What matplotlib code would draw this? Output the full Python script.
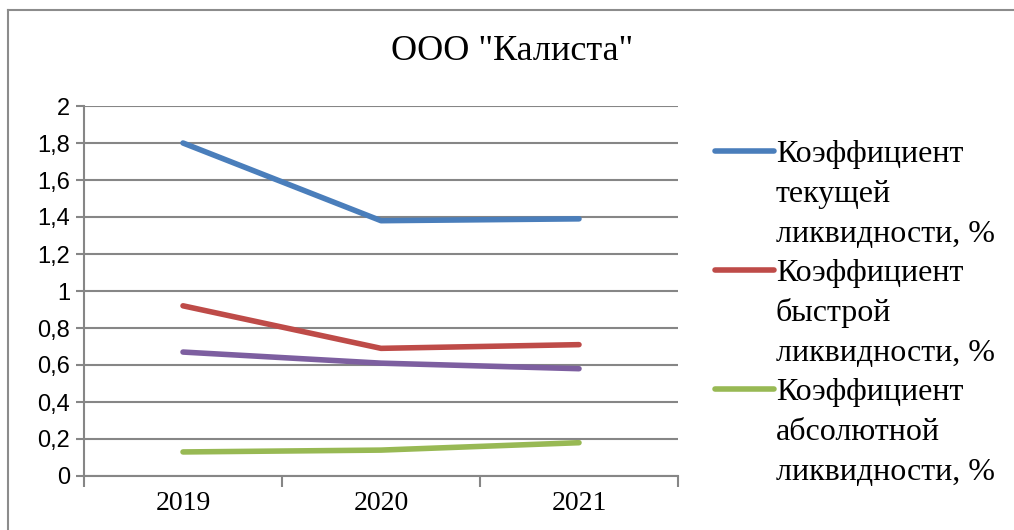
import matplotlib.pyplot as plt
from matplotlib.lines import Line2D
from matplotlib.ticker import FuncFormatter

# data
years = ['2019', '2020', '2021']
current_ratio = [1.80, 1.38, 1.39]
quick_ratio = [0.92, 0.69, 0.71]
other_ratio = [0.67, 0.61, 0.58]
absolute_ratio = [0.13, 0.14, 0.18]

legend_labels = [
    ['Коэффициент', 'текущей', 'ликвидности, %'],
    ['Коэффициент', 'быстрой', 'ликвидности, %'],
    ['Коэффициент', 'абсолютной', 'ликвидности, %'],
]

serif = ['Liberation Serif', 'DejaVu Serif']
narrow = ['Liberation Sans Narrow', 'Liberation Sans', 'DejaVu Sans']
grid_col = '#868686'

fig = plt.figure(figsize=(10.14, 5.30), dpi=100)
ax = fig.add_axes([84 / 1014, 54 / 530, 594 / 1014, 370 / 530])

x = range(len(years))
lw = 4.0
l1, = ax.plot(x, current_ratio, color='#4A7EBB', lw=lw, solid_capstyle='round')
l2, = ax.plot(x, quick_ratio, color='#BE4B48', lw=lw, solid_capstyle='round')
ax.plot(x, other_ratio, color='#7D5FA0', lw=lw, solid_capstyle='round')
l3, = ax.plot(x, absolute_ratio, color='#98B954', lw=lw, solid_capstyle='round')

ax.set_xlim(-0.5, 2.5)
ax.set_ylim(0, 2)
ax.set_yticks([i * 0.2 for i in range(11)])
ax.yaxis.set_major_formatter(FuncFormatter(lambda v, p: ('%g' % round(v, 1)).replace('.', ',')))
ax.grid(axis='y', color=grid_col, lw=1.5)
ax.set_axisbelow(True)

# categories in the middle, tick marks between them
ax.set_xticks([-0.5, 0.5, 1.5, 2.5])
ax.set_xticklabels([])
ax.set_xticks(list(x), minor=True)
ax.set_xticklabels(years, minor=True, fontfamily=serif, fontsize=20)
ax.tick_params(axis='x', which='major', length=8, width=1.5, color=grid_col, direction='out')
ax.tick_params(axis='x', which='minor', length=0, pad=11)
ax.tick_params(axis='y', length=6, width=1.5, color=grid_col, pad=4)
for lab in ax.get_yticklabels():
    lab.set_fontfamily(narrow)
    lab.set_fontsize(17)

for s in ['top', 'right']:
    ax.spines[s].set_visible(False)
for s in ['left', 'bottom']:
    ax.spines[s].set_color(grid_col)
    ax.spines[s].set_linewidth(1.5)

fig.text(512 / 1014, 1 - 52 / 530, 'ООО "Калиста"', ha='center', va='center',
         fontfamily=serif, fontsize=26)

# legend: series line next to first line of each label
blank = Line2D([], [], linestyle='none')
handles, labels = [], []
for h, lab in zip([l1, l2, l3], legend_labels):
    handles += [h, blank, blank]
    labels += lab
fig.legend(handles, labels, loc='upper left', bbox_to_anchor=(715 / 1014, 1 - 140 / 530),
           frameon=False, prop={'family': serif, 'size': 23}, handlelength=1.85,
           handletextpad=0.05, borderpad=0, borderaxespad=0, labelspacing=0.32)

# outer frame: only top and left edges are visible
fig.add_artist(Line2D([8 / 1014, 8 / 1014], [0, 1 - 9.5 / 530], transform=fig.transFigure,
                      color='#8c8c8c', lw=1.5))
fig.add_artist(Line2D([8 / 1014, 1], [1 - 9.5 / 530, 1 - 9.5 / 530], transform=fig.transFigure,
                      color='#8c8c8c', lw=1.5))

fig.savefig('out.png', dpi=100)
